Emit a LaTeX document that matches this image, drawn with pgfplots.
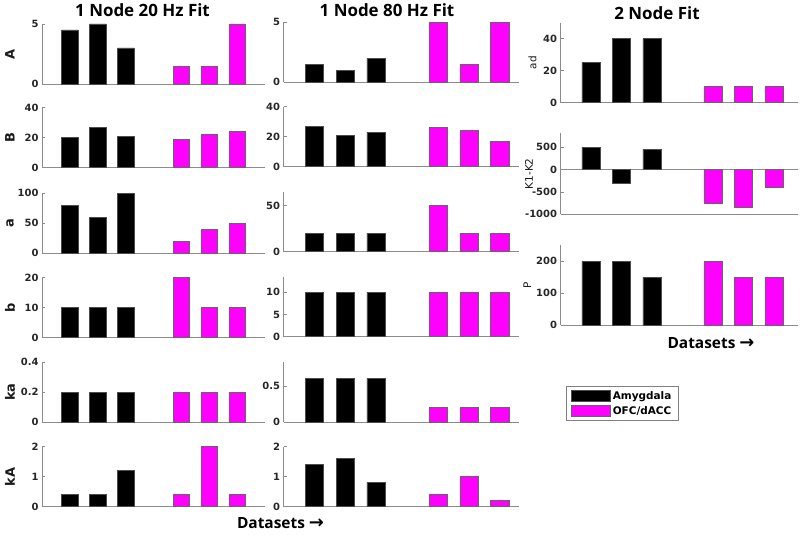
\documentclass[border=0pt]{standalone}
\usepackage{pgfplots}
\pgfplotsset{compat=1.18}
\usepackage{fontspec}
\setmainfont{Liberation Sans}
\newfontfamily\dejavu{DejaVu Sans}
\newfontfamily\opensans{Open Sans}
\newcommand\tickfont{\dejavu\bfseries\fontsize{10}{12}\selectfont}
\newcommand\ylabfont{\dejavu\bfseries\fontsize{13}{15}\selectfont}
\newcommand\ylabfontB{\dejavu\fontsize{10.5}{12}\selectfont}
\newcommand\titlefont{\opensans\bfseries\fontsize{17}{20}\selectfont}
\newcommand\dsfont{\opensans\bfseries\fontsize{15.5}{18}\selectfont}
\newcommand\legfont{\dejavu\bfseries\fontsize{10.5}{12}\selectfont}
\newcommand\arr{{\dejavu\bfseries\fontsize{18}{18}\selectfont →}}
\definecolor{mag}{RGB}{255,0,255}
\pgfplotsset{
  base/.style={
    scale only axis, anchor=south west,
    axis x line*=bottom, axis y line*=left,
    axis line style={-, draw=black!45, line width=0.8bp},
    xtick=\empty, xmin=0, ymin=0,
    tick align=inside, major tick length=3bp,
    ytick style={draw=black!45, line width=0.6bp},
    yticklabel style={font=\tickfont, text=black!85},
    /pgf/number format/assume math mode=true,
    /pgf/number format/1000 sep={},
  },
  c1/.style={base, width=223bp, height=60bp, xmax=8,
    every axis y label/.style={at={(axis description cs:-0.1435,0.5)}, rotate=90, anchor=center, font=\ylabfont, text=black!90}},
  c2/.style={base, width=235bp, height=60bp, xmax=7.6},
  c3/.style={base, width=238bp, height=80bp, xmax=7.8},
  lab3/.style={every axis y label/.style={at={(axis description cs:#1,0.5)}, rotate=90, anchor=center, font=\ylabfontB, text=black!90}},
  amy/.style={ybar, bar width=0.6, bar shift=0pt, fill=black, draw=black!70, line width=0.5bp,
    legend image code/.code={\draw[##1] (0bp,-5.5bp) rectangle (39bp,5.5bp);}},
  ofc/.style={ybar, bar width=0.6, bar shift=0pt, fill=mag, draw=black!60, line width=0.5bp,
    legend image code/.code={\draw[##1] (0bp,-5.5bp) rectangle (39bp,5.5bp);}},
}
\begin{document}
\begin{tikzpicture}
\path[use as bounding box] (0,0) rectangle (800bp,-535bp);
% ---------- column 1 ----------
\begin{axis}[c1, at={(42bp,-84bp)}, ymax=5, ytick={0,5}, ylabel={A}]
\addplot[amy] coordinates {(1,4.5) (2,5) (3,3)};
\addplot[ofc] coordinates {(5,1.5) (6,1.5) (7,5)};
\end{axis}
\begin{axis}[c1, at={(42bp,-167.7bp)}, ymax=40, ytick={0,20,40}, ylabel={B}]
\addplot[amy] coordinates {(1,20) (2,27) (3,21)};
\addplot[ofc] coordinates {(5,19) (6,22) (7,24)};
\end{axis}
\begin{axis}[c1, at={(42bp,-253.3bp)}, ymax=100, ytick={0,50,100}, ylabel={a}]
\addplot[amy] coordinates {(1,80) (2,60) (3,100)};
\addplot[ofc] coordinates {(5,20) (6,40) (7,50)};
\end{axis}
\begin{axis}[c1, at={(42bp,-337.7bp)}, ymax=20, ytick={0,10,20}, ylabel={b}]
\addplot[amy] coordinates {(1,10) (2,10) (3,10)};
\addplot[ofc] coordinates {(5,20) (6,10) (7,10)};
\end{axis}
\begin{axis}[c1, at={(42bp,-422.3bp)}, ymax=0.4, ytick={0,0.2,0.4}, ylabel={ka}]
\addplot[amy] coordinates {(1,0.2) (2,0.2) (3,0.2)};
\addplot[ofc] coordinates {(5,0.2) (6,0.2) (7,0.2)};
\end{axis}
\begin{axis}[c1, at={(42bp,-506.7bp)}, ymax=2, ytick={0,1,2}, ylabel={kA}]
\addplot[amy] coordinates {(1,0.4) (2,0.4) (3,1.2)};
\addplot[ofc] coordinates {(5,0.4) (6,2) (7,0.4)};
\end{axis}
% ---------- column 2 ----------
\begin{axis}[c2, at={(283.5bp,-82.3bp)}, ymax=5, ytick={0,5}]
\addplot[amy] coordinates {(1,1.5) (2,1) (3,2)};
\addplot[ofc] coordinates {(5,5) (6,1.5) (7,5)};
\end{axis}
\begin{axis}[c2, at={(283.5bp,-166.7bp)}, ymax=40, ytick={0,20,40}]
\addplot[amy] coordinates {(1,27) (2,21) (3,23)};
\addplot[ofc] coordinates {(5,26) (6,24) (7,17)};
\end{axis}
\begin{axis}[c2, at={(283.5bp,-251.7bp)}, ymax=65, ytick={0,50}]
\addplot[amy] coordinates {(1,20) (2,20) (3,20)};
\addplot[ofc] coordinates {(5,50) (6,20) (7,20)};
\end{axis}
\begin{axis}[c2, at={(283.5bp,-336.7bp)}, ymax=13.5, ytick={0,5,10}]
\addplot[amy] coordinates {(1,10) (2,10) (3,10)};
\addplot[ofc] coordinates {(5,10) (6,10) (7,10)};
\end{axis}
\begin{axis}[c2, at={(283.5bp,-422bp)}, ymax=0.83, ytick={0,0.5}]
\addplot[amy] coordinates {(1,0.6) (2,0.6) (3,0.6)};
\addplot[ofc] coordinates {(5,0.2) (6,0.2) (7,0.2)};
\end{axis}
\begin{axis}[c2, at={(283.5bp,-506.7bp)}, ymax=2, ytick={0,1,2}]
\addplot[amy] coordinates {(1,1.4) (2,1.6) (3,0.8)};
\addplot[ofc] coordinates {(5,0.4) (6,1.0) (7,0.2)};
\end{axis}
% ---------- column 3 ----------
\begin{axis}[c3, at={(560.5bp,-102.7bp)}, ymax=50, ytick={0,20,40}, lab3=-0.118, ylabel={ad}]
\addplot[amy] coordinates {(1,25) (2,40) (3,40)};
\addplot[ofc] coordinates {(5,10) (6,10) (7,10)};
\end{axis}
\begin{axis}[c3, height=81bp, at={(560.5bp,-214.3bp)}, ymin=-1000, ymax=810, ytick={-1000,-500,0,500}, lab3=-0.132, ylabel={K1-K2}]
\addplot[black!45, line width=0.7bp, forget plot] coordinates {(0,0) (7.8,0)};
\addplot[amy] coordinates {(1,500) (2,-300) (3,450)};
\addplot[ofc] coordinates {(5,-750) (6,-850) (7,-400)};
\end{axis}
\begin{axis}[c3, at={(560.5bp,-325.3bp)}, ymax=250, ytick={0,100,200}, lab3=-0.139, ylabel={P},
  legend style={at={(axis description cs:0.023,-0.759)}, anchor=north west, draw=black!50, line width=0.7bp, font=\legfont, inner xsep=5bp, inner ysep=3bp, row sep=1.5bp, cells={anchor=west}}]
\addplot[amy] coordinates {(1,200) (2,200) (3,150)};
\addplot[ofc] coordinates {(5,200) (6,150) (7,150)};
\legend{Amygdala, OFC/dACC}
\end{axis}
% ---------- titles ----------
\node[font=\titlefont, anchor=base] at (142.5bp,-16.7bp) {1 Node 20 Hz Fit};
\node[font=\titlefont, anchor=base] at (387bp,-16bp) {1 Node 80 Hz Fit};
\node[font=\titlefont, anchor=base] at (657bp,-19bp) {2 Node Fit};
\node[font=\dsfont, anchor=center] at (280.5bp,-523bp) {Datasets \arr};
\node[font=\dsfont, anchor=center] at (711bp,-343.5bp) {Datasets \arr};
\end{tikzpicture}
\end{document}
